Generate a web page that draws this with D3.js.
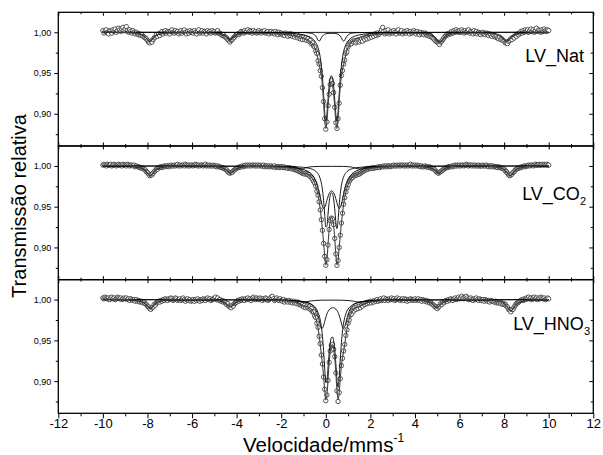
<!DOCTYPE html>
<html>
<head>
<meta charset="utf-8">
<script src="https://cdn.jsdelivr.net/npm/d3@7"></script>
<style>
  html, body { margin: 0; padding: 0; background: #fff; }
  svg { display: block; }
  text { font-family: "Liberation Sans", Arial, Helvetica, sans-serif; }
</style>
</head>
<body>
<svg id="chart" width="603" height="455"></svg>
<script>
// Doppler velocity of each channel (mm/s)
const velocity = [
-10,-9.95,-9.9,-9.85,-9.8,-9.75,-9.7,-9.65,-9.6,-9.55,-9.5,-9.45,-9.4,-9.35,-9.3,-9.25,-9.2,-9.15,-9.1,-9.05,
-9,-8.95,-8.9,-8.85,-8.8,-8.75,-8.7,-8.65,-8.6,-8.55,-8.5,-8.45,-8.4,-8.35,-8.3,-8.25,-8.2,-8.15,-8.1,-8.05,
-8,-7.95,-7.9,-7.85,-7.8,-7.75,-7.7,-7.65,-7.6,-7.55,-7.5,-7.45,-7.4,-7.35,-7.3,-7.25,-7.2,-7.15,-7.1,-7.05,
-7,-6.95,-6.9,-6.85,-6.8,-6.75,-6.7,-6.65,-6.6,-6.55,-6.5,-6.45,-6.4,-6.35,-6.3,-6.25,-6.2,-6.15,-6.1,-6.05,
-6,-5.95,-5.9,-5.85,-5.8,-5.75,-5.7,-5.65,-5.6,-5.55,-5.5,-5.45,-5.4,-5.35,-5.3,-5.25,-5.2,-5.15,-5.1,-5.05,
-5,-4.95,-4.9,-4.85,-4.8,-4.75,-4.7,-4.65,-4.6,-4.55,-4.5,-4.45,-4.4,-4.35,-4.3,-4.25,-4.2,-4.15,-4.1,-4.05,
-4,-3.95,-3.9,-3.85,-3.8,-3.75,-3.7,-3.65,-3.6,-3.55,-3.5,-3.45,-3.4,-3.35,-3.3,-3.25,-3.2,-3.15,-3.1,-3.05,
-3,-2.95,-2.9,-2.85,-2.8,-2.75,-2.7,-2.65,-2.6,-2.55,-2.5,-2.45,-2.4,-2.35,-2.3,-2.25,-2.2,-2.15,-2.1,-2.05,
-2,-1.95,-1.9,-1.85,-1.8,-1.75,-1.7,-1.65,-1.6,-1.55,-1.5,-1.45,-1.4,-1.35,-1.3,-1.25,-1.2,-1.15,-1.1,-1.05,
-1,-0.95,-0.9,-0.85,-0.8,-0.75,-0.7,-0.65,-0.6,-0.55,-0.5,-0.45,-0.4,-0.35,-0.3,-0.25,-0.2,-0.15,-0.1,-0.05,
0,0.05,0.1,0.15,0.2,0.25,0.3,0.35,0.4,0.45,0.5,0.55,0.6,0.65,0.7,0.75,0.8,0.85,0.9,0.95,
1,1.05,1.1,1.15,1.2,1.25,1.3,1.35,1.4,1.45,1.5,1.55,1.6,1.65,1.7,1.75,1.8,1.85,1.9,1.95,
2,2.05,2.1,2.15,2.2,2.25,2.3,2.35,2.4,2.45,2.5,2.55,2.6,2.65,2.7,2.75,2.8,2.85,2.9,2.95,
3,3.05,3.1,3.15,3.2,3.25,3.3,3.35,3.4,3.45,3.5,3.55,3.6,3.65,3.7,3.75,3.8,3.85,3.9,3.95,
4,4.05,4.1,4.15,4.2,4.25,4.3,4.35,4.4,4.45,4.5,4.55,4.6,4.65,4.7,4.75,4.8,4.85,4.9,4.95,
5,5.05,5.1,5.15,5.2,5.25,5.3,5.35,5.4,5.45,5.5,5.55,5.6,5.65,5.7,5.75,5.8,5.85,5.9,5.95,
6,6.05,6.1,6.15,6.2,6.25,6.3,6.35,6.4,6.45,6.5,6.55,6.6,6.65,6.7,6.75,6.8,6.85,6.9,6.95,
7,7.05,7.1,7.15,7.2,7.25,7.3,7.35,7.4,7.45,7.5,7.55,7.6,7.65,7.7,7.75,7.8,7.85,7.9,7.95,
8,8.05,8.1,8.15,8.2,8.25,8.3,8.35,8.4,8.45,8.5,8.55,8.6,8.65,8.7,8.75,8.8,8.85,8.9,8.95,
9,9.05,9.1,9.15,9.2,9.25,9.3,9.35,9.4,9.45,9.5,9.55,9.6,9.65,9.7,9.75,9.8,9.85,9.9,9.95,
10
];

// Measured relative transmission, sample LV_Nat
const natData = [
1.002,0.999,1.001,1.003,1.000,0.998,1.002,1.001,0.999,1.003,1.001,1.004,1.000,1.002,1.005,1.003,1.001,1.004,1.006,1.002,
1.004,1.007,1.002,1.000,1.003,1.001,0.999,1.002,1.000,0.998,1.000,0.998,0.997,0.998,0.996,0.997,0.995,0.994,0.993,0.992,
0.990,0.988,0.987,0.989,0.988,0.991,0.993,0.994,0.997,0.995,0.998,0.996,0.999,1.001,0.998,1.000,1.002,0.999,1.001,1.000,
0.998,1.001,1.003,1.000,0.999,1.002,1.000,1.001,0.998,1.000,1.002,0.999,1.001,1.003,1.000,0.998,1.001,0.999,1.002,1.000,
1.001,0.999,1.002,1.000,0.998,1.001,1.003,0.999,1.000,1.002,0.999,1.001,1.000,0.998,1.002,1.000,1.001,0.999,1.002,1.000,
1.001,0.999,1.000,1.002,0.999,0.998,0.998,0.996,0.997,0.995,0.994,0.993,0.991,0.990,0.988,0.990,0.991,0.993,0.994,0.996,
0.997,0.998,0.997,0.999,1.001,1.000,0.999,1.002,1.000,1.001,1.003,1.000,1.002,1.001,0.999,1.002,1.000,1.001,0.999,1.000,
1.002,1.000,0.999,1.001,1.000,1.002,0.999,1.000,1.001,0.998,1.000,1.001,0.999,1.000,0.998,1.001,0.999,0.997,1.000,0.998,
0.999,0.997,0.998,0.996,0.999,0.997,0.995,0.998,0.996,0.998,0.995,0.997,0.994,0.996,0.997,0.993,0.995,0.992,0.994,0.991,
0.994,0.991,0.993,0.990,0.992,0.989,0.990,0.986,0.987,0.983,0.982,0.977,0.974,0.965,0.961,0.953,0.946,0.932,0.915,0.894,
0.881,0.890,0.910,0.924,0.936,0.941,0.937,0.926,0.908,0.889,0.882,0.894,0.913,0.935,0.947,0.953,0.961,0.966,0.974,0.976,
0.982,0.985,0.987,0.986,0.989,0.988,0.990,0.987,0.989,0.991,0.988,0.990,0.992,0.989,0.993,0.991,0.994,0.992,0.995,0.993,
0.996,0.994,0.997,0.995,0.998,0.996,0.999,0.997,0.998,1.000,1.003,1.006,1.001,0.998,1.002,0.999,1.003,0.998,1.000,1.001,
0.999,1.002,1.000,0.998,1.001,1.003,0.999,1.000,1.002,0.998,1.000,1.001,0.999,1.002,1.000,0.998,1.001,0.999,1.000,1.002,
1.000,0.998,1.001,0.999,0.997,1.000,0.998,0.999,0.997,0.999,0.998,0.996,0.997,0.995,0.996,0.994,0.993,0.992,0.990,0.989,
0.988,0.987,0.985,0.988,0.989,0.991,0.993,0.995,0.996,0.998,0.997,0.999,0.998,1.001,0.999,1.002,1.000,1.003,1.001,1.000,
1.002,1.000,1.003,1.001,0.999,1.002,1.000,1.001,1.003,0.999,1.001,1.000,0.998,1.002,0.999,1.001,0.998,1.000,0.999,0.997,
0.999,1.000,0.998,0.997,0.999,0.998,0.996,0.998,0.997,0.995,0.997,0.996,0.994,0.995,0.993,0.992,0.994,0.991,0.992,0.990,
0.989,0.987,0.988,0.986,0.989,0.990,0.992,0.991,0.994,0.993,0.996,0.995,0.998,0.997,0.999,1.001,0.999,1.002,1.000,1.003,
1.001,1.003,1.000,1.002,1.004,1.001,1.003,1.000,1.002,1.005,1.001,1.003,1.002,1.000,1.003,1.001,1.004,1.002,1.001,1.003,
1.002
];

// Measured relative transmission, sample LV_CO2
const co2Data = [
1.001,1.002,1.001,1.000,1.002,1.001,1.001,1.002,1.000,1.001,1.002,1.001,1.000,1.001,1.002,1.001,1.001,1.000,1.002,1.001,
1.001,1.000,1.002,1.001,1.000,1.001,1.001,1.000,1.001,0.999,1.000,0.999,0.999,0.998,0.998,0.997,0.997,0.996,0.995,0.993,
0.992,0.990,0.988,0.989,0.989,0.991,0.993,0.994,0.996,0.996,0.998,0.998,0.999,0.998,0.999,1.000,0.999,1.000,1.000,0.999,
1.000,1.001,1.000,1.000,1.001,1.000,1.001,1.002,1.000,1.001,1.000,1.001,1.001,1.000,1.002,1.001,1.000,1.001,1.000,1.001,
1.001,1.000,1.001,1.002,1.001,1.000,1.001,1.000,1.001,1.001,1.000,1.001,1.002,1.000,1.001,1.000,1.001,1.000,1.000,1.001,
1.000,1.000,0.999,1.000,0.999,0.999,0.998,0.998,0.997,0.997,0.996,0.995,0.993,0.992,0.991,0.992,0.992,0.994,0.995,0.996,
0.997,0.998,0.998,0.999,0.999,1.000,0.999,1.000,1.001,1.000,1.001,1.000,1.001,1.000,1.001,1.001,1.000,1.001,1.000,1.001,
1.000,1.001,1.000,1.000,1.001,0.999,1.000,1.000,0.999,1.000,0.999,1.000,0.999,0.999,1.000,0.998,0.999,0.999,0.998,0.999,
0.999,0.998,0.999,0.998,0.998,0.998,0.997,0.998,0.997,0.997,0.996,0.997,0.996,0.995,0.995,0.994,0.993,0.993,0.992,0.991,
0.991,0.990,0.991,0.990,0.989,0.989,0.987,0.986,0.984,0.981,0.979,0.975,0.969,0.964,0.956,0.946,0.934,0.921,0.905,0.889,
0.878,0.885,0.903,0.922,0.933,0.936,0.935,0.928,0.911,0.892,0.878,0.884,0.900,0.915,0.930,0.942,0.953,0.961,0.968,0.973,
0.977,0.981,0.983,0.985,0.986,0.988,0.988,0.989,0.989,0.990,0.990,0.991,0.992,0.993,0.994,0.995,0.995,0.996,0.996,0.997,
0.997,0.997,0.998,0.997,0.998,0.998,0.998,0.999,0.998,0.999,0.999,0.999,1.000,0.999,1.000,0.999,1.000,1.000,0.999,1.000,
1.000,1.001,1.000,1.000,1.001,1.000,1.001,1.000,1.001,1.001,1.000,1.001,1.000,1.001,1.000,1.001,1.002,1.000,1.001,1.000,
1.001,1.000,1.001,1.000,1.000,0.999,1.000,0.999,0.999,1.000,0.999,0.999,0.998,0.999,0.998,0.997,0.997,0.996,0.995,0.993,
0.992,0.991,0.992,0.993,0.994,0.995,0.996,0.997,0.998,0.998,0.999,0.999,0.999,1.000,0.999,1.000,1.001,1.000,1.001,1.000,
1.001,1.000,1.001,1.001,1.000,1.001,1.002,1.001,1.000,1.001,1.001,1.000,1.001,1.000,1.001,1.000,1.000,1.001,1.000,1.000,
1.000,1.001,1.000,1.000,1.001,1.000,0.999,1.000,1.000,0.999,1.000,0.999,0.999,0.999,0.998,0.999,0.998,0.998,0.997,0.997,
0.996,0.994,0.993,0.991,0.989,0.988,0.989,0.990,0.992,0.993,0.995,0.996,0.997,0.997,0.998,0.998,0.999,0.999,1.000,0.999,
1.000,1.000,1.001,1.000,1.001,1.001,1.000,1.001,1.002,1.001,1.001,1.002,1.001,1.001,1.002,1.001,1.002,1.001,1.002,1.001,
1.001
];

// Measured relative transmission, sample LV_HNO3
const hno3Data = [
1.002,1.001,1.003,1.002,1.001,1.002,1.000,1.002,1.003,1.001,1.002,1.000,1.001,1.003,1.002,1.001,1.002,1.000,1.001,1.002,
1.001,1.002,1.000,1.001,0.999,1.001,1.000,0.999,1.000,0.998,1.000,0.998,0.999,0.997,0.998,0.997,0.996,0.997,0.995,0.994,
0.992,0.991,0.989,0.988,0.990,0.991,0.994,0.993,0.996,0.997,0.998,0.997,0.999,0.998,1.000,0.999,1.001,1.000,0.999,1.001,
1.000,1.002,1.001,0.999,1.000,1.002,1.001,0.999,1.000,1.001,0.999,1.000,1.002,1.000,0.998,1.000,1.001,0.999,1.000,0.998,
0.999,1.000,0.998,1.000,0.999,1.001,0.999,0.998,1.000,0.999,1.001,1.000,0.999,1.001,1.002,1.000,1.001,0.999,1.000,1.001,
1.001,1.003,1.000,1.002,0.999,1.000,0.998,0.999,0.997,0.998,0.996,0.994,0.995,0.992,0.991,0.990,0.993,0.992,0.995,0.996,
0.997,0.999,0.998,1.000,0.999,1.001,1.000,0.999,1.001,1.000,1.002,1.000,1.001,0.999,1.001,1.003,1.001,1.000,1.002,1.001,
1.000,1.002,1.001,0.999,1.001,1.000,1.002,1.001,0.999,1.000,1.001,1.003,1.004,1.001,0.999,1.000,1.002,1.000,0.999,1.001,
0.999,0.998,1.000,0.997,0.999,0.998,0.997,0.999,0.997,0.998,0.996,0.998,0.996,0.997,0.995,0.997,0.994,0.995,0.993,0.994,
0.991,0.993,0.990,0.992,0.990,0.991,0.988,0.989,0.985,0.985,0.980,0.978,0.971,0.966,0.955,0.946,0.932,0.921,0.905,0.890,
0.876,0.883,0.901,0.923,0.937,0.944,0.945,0.939,0.930,0.910,0.888,0.875,0.886,0.903,0.919,0.928,0.937,0.945,0.956,0.963,
0.971,0.975,0.981,0.982,0.987,0.986,0.990,0.988,0.991,0.989,0.992,0.990,0.993,0.992,0.995,0.994,0.996,0.995,0.997,0.996,
0.998,0.996,0.998,0.997,0.999,0.998,1.000,0.998,0.999,1.001,0.999,1.000,1.002,0.999,1.001,1.000,0.999,1.001,1.000,1.002,
1.000,1.001,0.999,1.000,1.002,1.000,1.001,0.999,1.000,1.001,0.999,1.001,1.000,0.998,1.000,0.999,1.001,1.000,0.999,1.000,
1.001,0.999,1.000,1.001,0.999,1.000,0.998,1.000,0.999,0.998,0.999,0.997,0.998,0.996,0.997,0.995,0.994,0.993,0.991,0.991,
0.989,0.991,0.992,0.995,0.994,0.997,0.996,0.998,0.999,0.998,1.000,0.999,1.001,1.000,0.999,1.001,1.002,1.000,1.001,1.003,
1.001,1.002,1.004,1.002,1.001,1.003,1.004,1.002,1.000,1.001,1.002,1.000,0.999,1.001,1.000,1.002,1.000,0.999,1.001,1.000,
0.999,1.000,0.998,1.000,0.999,0.998,0.999,0.997,0.999,0.998,0.998,0.997,0.998,0.996,0.997,0.996,0.997,0.995,0.996,0.994,
0.995,0.994,0.992,0.991,0.988,0.987,0.985,0.988,0.988,0.991,0.993,0.995,0.996,0.997,0.998,0.999,1.000,0.999,1.001,1.000,
1.002,1.001,1.003,1.001,1.002,1.000,1.002,1.003,1.001,1.002,1.000,1.002,1.001,1.003,1.002,1.001,1.002,1.000,1.001,1.002,
1.001
];

// Fitted curves, [velocity, transmission]
const natFit = [[-10,1.000],[-9,0.9998],[-8.6,0.9992],[-8.4,0.9983],[-8.3,0.9975],[-8.2,0.9962],[-8.1,0.994],[-8.05,0.9926],[-8,0.9909],[-7.95,0.9895],[-7.9,0.989],[-7.85,0.9895],[-7.8,0.9909],[-7.75,0.9926],[-7.7,0.994],[-7.6,0.9962],[-7.5,0.9975],[-7.3,0.9987],[-7,0.9993],[-6,0.9996],[-5,0.9988],[-4.8,0.998],[-4.7,0.9974],[-4.6,0.9964],[-4.5,0.9948],[-4.45,0.9935],[-4.4,0.9923],[-4.35,0.9907],[-4.3,0.9892],[-4.25,0.9907],[-4.2,0.9923],[-4.15,0.9935],[-4.1,0.9948],[-4,0.9964],[-3.9,0.9974],[-3.8,0.998],[-3.5,0.9986],[-3,0.9988],[-2.5,0.9984],
[-2,0.9978],[-1.9,0.9976],[-1.8,0.9973],[-1.7,0.9971],[-1.6,0.9967],[-1.5,0.9965],[-1.4,0.9961],[-1.3,0.9957],[-1.2,0.9949],[-1.1,0.9942],[-1,0.9933],[-0.95,0.9927],[-0.9,0.9921],[-0.85,0.9914],[-0.8,0.9907],[-0.75,0.9898],[-0.7,0.9888],[-0.65,0.9876],[-0.6,0.9861],[-0.55,0.9841],[-0.5,0.9813],[-0.45,0.9779],[-0.4,0.973],[-0.35,0.9668],[-0.3,0.9604],[-0.25,0.9544],[-0.2,0.9464],[-0.15,0.9334],[-0.1,0.9143],[-0.05,0.893],[0,0.8819],[0.05,0.8904],[0.1,0.9091],[0.15,0.9254],[0.2,0.9351],[0.25,0.9381],[0.3,0.9351],[0.35,0.9254],[0.4,0.9091],[0.45,0.8904],[0.5,0.8819],[0.55,0.893],[0.6,0.9143],[0.65,0.9334],[0.7,0.9464],[0.75,0.9544],[0.8,0.9604],[0.85,0.9668],[0.9,0.973],[0.95,0.9779],[1,0.9813],[1.05,0.9841],[1.1,0.9861],[1.15,0.9876],[1.2,0.9888],[1.25,0.9898],[1.3,0.9907],[1.35,0.9914],[1.4,0.9921],[1.45,0.9927],[1.5,0.9933],[1.6,0.9942],[1.7,0.9949],[1.8,0.9957],[1.9,0.9961],[2,0.9965],[2.2,0.9971],[2.5,0.9978],[3,0.9983],[3.5,0.9987],[4,0.9988],
[4.4,0.9982],[4.6,0.9972],[4.7,0.9962],[4.8,0.9948],[4.9,0.9925],[4.95,0.9906],[5,0.9888],[5.05,0.9875],[5.1,0.987],[5.15,0.9875],[5.2,0.9888],[5.25,0.9906],[5.3,0.9925],[5.4,0.9948],[5.5,0.9962],[5.6,0.9972],[5.8,0.9982],[6.2,0.9989],[7,0.9991],[7.4,0.9984],[7.6,0.9976],[7.7,0.9968],[7.8,0.9955],[7.9,0.9935],[7.95,0.992],[8,0.9904],[8.05,0.9891],[8.1,0.9886],[8.15,0.9891],[8.2,0.9904],[8.25,0.992],[8.3,0.9935],[8.4,0.9955],[8.5,0.9968],[8.6,0.9976],[8.8,0.9985],[9.2,0.9992],[10,0.9996]];

const natDoublet = [[-10,1],[-4,0.9998],[-3,0.9996],[-2.5,0.9993],[-2,0.9991],[-1.5,0.9985],[-1.2,0.9977],[-1,0.9968],[-0.9,0.9961],[-0.8,0.9953],[-0.7,0.994],[-0.6,0.9923],[-0.5,0.9894],[-0.45,0.9875],[-0.4,0.9849],[-0.35,0.9813],[-0.3,0.9765],[-0.25,0.9694],[-0.2,0.9593],[-0.15,0.9445],[-0.1,0.9244],[-0.05,0.9024],[0,0.891],[0.05,0.8993],[0.1,0.9179],[0.15,0.9341],[0.2,0.9437],[0.25,0.9467],[0.3,0.9437],[0.35,0.9341],[0.4,0.9179],[0.45,0.8993],[0.5,0.891],[0.55,0.9024],[0.6,0.9244],[0.65,0.9445],[0.7,0.9593],[0.75,0.9694],[0.8,0.9765],[0.85,0.9813],[0.9,0.9849],[0.95,0.9875],[1,0.9894],[1.1,0.9923],[1.2,0.994],[1.3,0.9953],[1.4,0.9961],[1.5,0.9968],[1.7,0.9977],[2,0.9985],[2.5,0.9991],[3,0.9993],[3.5,0.9996],[4.5,0.9998],[10,1]];

const natMinor = [[-10,1],[-1.5,0.9998],[-1,0.9996],[-0.9,0.9995],[-0.8,0.9993],[-0.7,0.9989],[-0.65,0.9987],[-0.6,0.9983],[-0.55,0.9977],[-0.5,0.9967],[-0.45,0.9953],[-0.4,0.9931],[-0.35,0.9904],[-0.3,0.989],[-0.25,0.9904],[-0.2,0.9931],[-0.15,0.9953],[-0.1,0.9967],[-0.05,0.9977],[0,0.9982],[0.1,0.9986],[0.25,0.9987],[0.4,0.9986],[0.5,0.9982],[0.55,0.9977],[0.6,0.9967],[0.65,0.9953],[0.7,0.9931],[0.75,0.9904],[0.8,0.989],[0.85,0.9904],[0.9,0.9931],[0.95,0.9953],[1,0.9967],[1.05,0.9977],[1.1,0.9983],[1.15,0.9987],[1.2,0.9989],[1.3,0.9993],[1.4,0.9995],[1.5,0.9996],[2,0.9998],[10,1]];

const natSextet = [[-10,1],[-9,0.9996],[-8.6,0.9992],[-8.4,0.9982],[-8.3,0.9974],[-8.2,0.9961],[-8.1,0.994],[-8.05,0.9925],[-8,0.9909],[-7.95,0.9895],[-7.9,0.989],[-7.85,0.9895],[-7.8,0.9909],[-7.75,0.9925],[-7.7,0.994],[-7.6,0.9961],[-7.5,0.9974],[-7.4,0.9982],[-7.2,0.9992],[-6.5,0.9996],[-5.3,0.9996],[-4.9,0.9991],[-4.7,0.9982],[-4.6,0.9972],[-4.5,0.9956],[-4.4,0.9931],[-4.35,0.9915],[-4.3,0.990],[-4.25,0.9915],[-4.2,0.9931],[-4.1,0.9956],[-4,0.9972],[-3.9,0.9982],[-3.7,0.9991],[-3,0.9997],[0,0.9999],[4,0.9996],[4.5,0.9989],[4.7,0.9978],[4.8,0.9965],[4.9,0.9934],[4.95,0.9918],[5,0.990],[5.05,0.9886],[5.1,0.988],[5.15,0.9886],[5.2,0.990],[5.25,0.9918],[5.3,0.9934],[5.4,0.9965],[5.5,0.9978],[5.7,0.9989],[6.2,0.9995],[7,0.9996],[7.5,0.9987],[7.7,0.9974],[7.8,0.9961],[7.9,0.994],[7.95,0.9925],[8,0.9909],[8.05,0.9895],[8.1,0.989],[8.15,0.9895],[8.2,0.9909],[8.25,0.9925],[8.3,0.994],[8.4,0.9961],[8.5,0.9974],[8.7,0.9987],[9.2,0.9995],[10,0.9997]];

const co2Fit = [[-10,1.0005],[-9,1.0002],[-8.6,0.9995],[-8.5,0.9992],[-8.4,0.9987],[-8.3,0.998],[-8.2,0.9968],[-8.15,0.9959],[-8.1,0.9947],[-8.05,0.9933],[-8,0.9916],[-7.95,0.9899],[-7.9,0.9887],[-7.85,0.9886],[-7.8,0.9896],[-7.75,0.9913],[-7.7,0.9929],[-7.65,0.9945],[-7.6,0.9957],[-7.5,0.9974],[-7.4,0.9983],[-7.2,0.9993],[-7,0.9997],[-6,1.0001],[-5.2,0.9998],[-5,0.9996],[-4.8,0.999],[-4.7,0.9985],[-4.6,0.9975],[-4.55,0.9968],[-4.5,0.9959],[-4.45,0.9947],[-4.4,0.9935],[-4.35,0.9922],[-4.3,0.9915],[-4.25,0.9916],[-4.2,0.9925],[-4.15,0.9937],[-4.1,0.995],[-4.05,0.9961],[-4,0.997],[-3.9,0.9981],[-3.8,0.9987],[-3.6,0.9993],[-3,0.9994],[-2.5,0.9991],
[-2,0.9987],[-1.9,0.9985],[-1.8,0.9982],[-1.7,0.9978],[-1.6,0.9973],[-1.55,0.997],[-1.5,0.9968],[-1.45,0.9964],[-1.4,0.996],[-1.35,0.9955],[-1.3,0.995],[-1.25,0.9943],[-1.2,0.9934],[-1.15,0.9926],[-1.1,0.992],[-1.05,0.9913],[-1,0.991],[-0.95,0.991],[-0.9,0.9908],[-0.85,0.9905],[-0.8,0.9898],[-0.75,0.9889],[-0.7,0.9877],[-0.65,0.9863],[-0.6,0.9843],[-0.55,0.982],[-0.5,0.979],[-0.45,0.9751],[-0.4,0.9702],[-0.35,0.9645],[-0.3,0.9566],[-0.25,0.9468],[-0.2,0.935],[-0.15,0.9214],[-0.1,0.9063],[-0.05,0.89],[0,0.8785],[0.05,0.8845],[0.1,0.9039],[0.15,0.9219],[0.2,0.9328],[0.25,0.9371],[0.3,0.9354],[0.35,0.9272],[0.4,0.9119],[0.45,0.8915],[0.5,0.8784],[0.55,0.8841],[0.6,0.8998],[0.65,0.9156],[0.7,0.9298],[0.75,0.9423],[0.8,0.9528],[0.85,0.9616],[0.9,0.9677],[0.95,0.9731],[1,0.9773],[1.05,0.9806],[1.1,0.9831],[1.15,0.9851],[1.2,0.9867],[1.25,0.9878],[1.3,0.9886],[1.35,0.989],[1.4,0.9894],[1.45,0.9898],[1.5,0.9906],[1.55,0.9914],[1.6,0.9924],[1.65,0.9933],[1.7,0.9941],[1.75,0.9947],[1.8,0.9954],[1.9,0.9962],[2,0.9969],[2.2,0.9978],[2.5,0.9988],[3,0.9994],[3.5,0.9997],[4,0.9996],
[4.3,0.9994],[4.5,0.9991],[4.6,0.9986],[4.7,0.9979],[4.75,0.9974],[4.8,0.9966],[4.85,0.9957],[4.9,0.9945],[4.95,0.9932],[5,0.992],[5.05,0.9914],[5.1,0.9917],[5.15,0.9927],[5.2,0.994],[5.25,0.9953],[5.3,0.9963],[5.4,0.9977],[5.5,0.9986],[5.7,0.9995],[6,0.9999],[7,0.9999],[7.5,0.9995],[7.7,0.9988],[7.8,0.9982],[7.9,0.9973],[7.95,0.9966],[8,0.9956],[8.05,0.9944],[8.1,0.9928],[8.15,0.9912],[8.2,0.9895],[8.25,0.9885],[8.3,0.9886],[8.35,0.9898],[8.4,0.9915],[8.45,0.9932],[8.5,0.9946],[8.55,0.9958],[8.6,0.9967],[8.7,0.9979],[8.8,0.9986],[9,0.9992],[9.5,0.9999],[10,1.0002]];

const co2DoubletA = [[-10,1],[-3,0.9997],[-2,0.9995],[-1.5,0.9991],[-1,0.9983],[-0.8,0.9975],[-0.6,0.9959],[-0.5,0.9946],[-0.4,0.9922],[-0.35,0.9904],[-0.3,0.988],[-0.25,0.9844],[-0.2,0.979],[-0.15,0.9706],[-0.1,0.9579],[-0.05,0.9404],[0,0.9251],[0.05,0.9261],[0.1,0.9409],[0.15,0.9553],[0.2,0.9639],[0.25,0.9672],[0.3,0.9659],[0.35,0.9595],[0.4,0.9473],[0.45,0.9312],[0.5,0.9231],[0.55,0.9332],[0.6,0.9513],[0.65,0.9662],[0.7,0.9761],[0.75,0.9825],[0.8,0.9866],[0.85,0.9896],[0.9,0.9916],[1,0.9942],[1.1,0.9957],[1.2,0.9968],[1.4,0.9979],[1.6,0.9985],[2,0.9991],[2.5,0.9995],[3.5,0.9997],[10,1]];

const co2DoubletB = [[-10,1],[-3,0.9994],[-2.5,0.9992],[-2,0.9988],[-1.5,0.9979],[-1.2,0.9968],[-1,0.9955],[-0.9,0.9946],[-0.8,0.9933],[-0.7,0.9914],[-0.6,0.9887],[-0.5,0.9846],[-0.45,0.9817],[-0.4,0.9781],[-0.35,0.9736],[-0.3,0.9681],[-0.25,0.9619],[-0.2,0.9555],[-0.15,0.9503],[-0.1,0.9479],[-0.05,0.9491],[0,0.9529],[0.05,0.9579],[0.1,0.9625],[0.15,0.9661],[0.2,0.9684],[0.25,0.9694],[0.3,0.969],[0.35,0.9672],[0.4,0.9641],[0.45,0.9598],[0.5,0.9548],[0.55,0.9504],[0.6,0.948],[0.65,0.9489],[0.7,0.9532],[0.75,0.9593],[0.8,0.9657],[0.85,0.9715],[0.9,0.9764],[0.95,0.9803],[1,0.9835],[1.1,0.988],[1.2,0.991],[1.3,0.993],[1.4,0.9943],[1.6,0.9961],[1.8,0.9972],[2,0.9978],[2.5,0.9988],[3,0.9992],[4,0.9996],[10,1]];

const co2Sextet = [[-10,1],[-9,0.9997],[-8.6,0.999],[-8.4,0.9982],[-8.3,0.9975],[-8.2,0.9963],[-8.1,0.9942],[-8.05,0.9928],[-8,0.9911],[-7.95,0.9894],[-7.9,0.9882],[-7.85,0.9881],[-7.8,0.9891],[-7.75,0.9908],[-7.7,0.9924],[-7.6,0.9952],[-7.5,0.9969],[-7.4,0.9978],[-7.2,0.9988],[-6.8,0.9994],[-6,0.9997],[-5.2,0.9996],[-4.9,0.999],[-4.7,0.9981],[-4.6,0.9971],[-4.5,0.9955],[-4.45,0.9943],[-4.4,0.9931],[-4.35,0.9918],[-4.3,0.9911],[-4.25,0.9912],[-4.2,0.9921],[-4.15,0.9933],[-4.1,0.9946],[-4,0.9966],[-3.9,0.9977],[-3.7,0.9988],[-3.2,0.9995],[-2.2,0.9995],[-1.7,0.999],[-1.5,0.9987],[-1.4,0.9985],[-1.3,0.9979],[-1.2,0.9972],[-1.15,0.9968],[-1.1,0.9965],[-1.05,0.9965],[-1,0.9967],[-0.95,0.9972],[-0.9,0.9977],[-0.8,0.9984],[-0.6,0.9991],[-0.3,0.9994],[0.25,0.9995],[0.8,0.9994],[1,0.9991],[1.2,0.9984],[1.3,0.9977],[1.35,0.9972],[1.4,0.9967],[1.45,0.9965],[1.5,0.9965],[1.55,0.9968],[1.6,0.9972],[1.7,0.9981],[1.8,0.9987],[2,0.9992],[2.5,0.9995],[3.5,0.9995],[4.3,0.9991],[4.6,0.9983],[4.7,0.9975],[4.8,0.9962],[4.85,0.9953],[4.9,0.9941],[4.95,0.9928],[5,0.9916],[5.05,0.991],[5.1,0.9913],[5.15,0.9923],[5.2,0.9936],[5.3,0.9959],[5.4,0.9973],[5.5,0.9982],[5.7,0.9991],[6.2,0.9996],[7.2,0.9995],[7.6,0.9988],[7.8,0.9978],[7.9,0.9969],[8,0.9952],[8.1,0.9924],[8.15,0.9908],[8.2,0.9891],[8.25,0.9881],[8.3,0.9882],[8.35,0.9894],[8.4,0.9911],[8.45,0.9928],[8.5,0.9942],[8.6,0.9963],[8.7,0.9975],[8.85,0.9985],[9.2,0.9993],[10,0.9996]];

const hno3Fit = [[-10,1.0005],[-9,1.0001],[-8.6,0.9996],[-8.5,0.9993],[-8.4,0.9989],[-8.3,0.9982],[-8.2,0.9971],[-8.15,0.9963],[-8.1,0.9952],[-8.05,0.9939],[-8,0.9923],[-7.95,0.9908],[-7.9,0.9897],[-7.85,0.9896],[-7.8,0.9905],[-7.75,0.9921],[-7.7,0.9935],[-7.65,0.995],[-7.6,0.9961],[-7.5,0.9976],[-7.4,0.9985],[-7.2,0.9994],[-7,0.9998],[-6,1.0001],[-5.2,0.9998],[-5,0.9996],[-4.8,0.999],[-4.7,0.9985],[-4.6,0.9975],[-4.55,0.9968],[-4.5,0.9959],[-4.45,0.9947],[-4.4,0.9935],[-4.35,0.9922],[-4.3,0.9915],[-4.25,0.9916],[-4.2,0.9925],[-4.15,0.9937],[-4.1,0.995],[-4.05,0.9961],[-4,0.997],[-3.9,0.9981],[-3.8,0.9987],[-3.6,0.9993],[-3,0.9995],[-2.5,0.9992],
[-2,0.9988],[-1.8,0.9984],[-1.6,0.998],[-1.5,0.9976],[-1.4,0.9971],[-1.3,0.9964],[-1.2,0.9953],[-1.1,0.9937],[-1.05,0.9929],[-1,0.9924],[-0.95,0.992],[-0.9,0.9919],[-0.85,0.9916],[-0.8,0.9912],[-0.75,0.9905],[-0.7,0.9896],[-0.65,0.9882],[-0.6,0.9866],[-0.55,0.9843],[-0.5,0.9813],[-0.45,0.9774],[-0.4,0.9721],[-0.35,0.965],[-0.3,0.956],[-0.25,0.945],[-0.2,0.9329],[-0.15,0.9204],[-0.1,0.9063],[-0.05,0.8894],[0,0.877],[0.05,0.8821],[0.1,0.9021],[0.15,0.9226],[0.2,0.9366],[0.25,0.9436],[0.3,0.9447],[0.35,0.9401],[0.4,0.9289],[0.45,0.9106],[0.5,0.8888],[0.55,0.8771],[0.6,0.8854],[0.65,0.9035],[0.7,0.9186],[0.75,0.9286],[0.8,0.9365],[0.85,0.9452],[0.9,0.9549],[0.95,0.9637],[1,0.9707],[1.05,0.9763],[1.1,0.9804],[1.15,0.9836],[1.2,0.986],[1.25,0.9877],[1.3,0.9892],[1.35,0.9901],[1.4,0.9909],[1.45,0.9908],[1.5,0.9911],[1.55,0.9918],[1.6,0.9928],[1.65,0.9937],[1.7,0.9944],[1.8,0.9957],[1.9,0.9965],[2,0.997],[2.2,0.9978],[2.5,0.9986],[3,0.9992],[3.5,0.9995],[4,0.9995],
[4.2,0.9993],[4.4,0.9989],[4.5,0.9986],[4.6,0.998],[4.65,0.9974],[4.7,0.9967],[4.75,0.9957],[4.8,0.9945],[4.85,0.9931],[4.9,0.9917],[4.95,0.9907],[5,0.9906],[5.05,0.9914],[5.1,0.9928],[5.15,0.9942],[5.2,0.9955],[5.3,0.9973],[5.4,0.9983],[5.5,0.999],[5.7,0.9997],[6.2,1.0001],[7,1.0],[7.4,0.9997],[7.6,0.9992],[7.7,0.9988],[7.8,0.9982],[7.85,0.9978],[7.9,0.9973],[7.95,0.9965],[8,0.9956],[8.05,0.9944],[8.1,0.9928],[8.15,0.9909],[8.2,0.9889],[8.25,0.9872],[8.3,0.9865],[8.35,0.9872],[8.4,0.9889],[8.45,0.9909],[8.5,0.9928],[8.55,0.9944],[8.6,0.9956],[8.7,0.9973],[8.8,0.9982],[9,0.9992],[9.3,0.9997],[10,1.0002]];

const hno3DoubletA = [[-10,1],[-3,0.9995],[-2,0.9992],[-1.5,0.9986],[-1,0.9972],[-0.8,0.9959],[-0.6,0.9934],[-0.5,0.9911],[-0.4,0.9874],[-0.35,0.9845],[-0.3,0.9807],[-0.25,0.9751],[-0.2,0.967],[-0.15,0.955],[-0.1,0.9377],[-0.05,0.9157],[0,0.8982],[0.05,0.8992],[0.1,0.9162],[0.15,0.9346],[0.2,0.9472],[0.25,0.9534],[0.3,0.9541],[0.35,0.9496],[0.4,0.9389],[0.45,0.9217],[0.5,0.9016],[0.55,0.8923],[0.6,0.904],[0.65,0.9267],[0.7,0.947],[0.75,0.9616],[0.8,0.9714],[0.85,0.978],[0.9,0.9827],[0.95,0.986],[1,0.9884],[1.1,0.9916],[1.2,0.9936],[1.3,0.995],[1.5,0.9967],[1.8,0.9979],[2,0.9983],[2.5,0.9989],[3.5,0.9994],[10,1]];

const hno3DoubletB = [[-10,1],[-3,0.9996],[-2,0.9994],[-1.5,0.999],[-1.2,0.9984],[-1,0.9977],[-0.9,0.9972],[-0.8,0.9964],[-0.7,0.9952],[-0.6,0.9933],[-0.5,0.9901],[-0.45,0.9877],[-0.4,0.9844],[-0.35,0.9802],[-0.3,0.975],[-0.25,0.9695],[-0.2,0.9654],[-0.15,0.9649],[-0.1,0.9681],[-0.05,0.9732],[0,0.9783],[0.05,0.9824],[0.1,0.9854],[0.15,0.9875],[0.2,0.9889],[0.25,0.9897],[0.3,0.9901],[0.35,0.99],[0.4,0.9895],[0.45,0.9884],[0.5,0.9867],[0.55,0.9843],[0.6,0.9809],[0.65,0.9763],[0.7,0.9711],[0.75,0.9665],[0.8,0.9646],[0.85,0.9667],[0.9,0.9717],[0.95,0.9772],[1,0.982],[1.1,0.9887],[1.2,0.9925],[1.3,0.9947],[1.4,0.996],[1.6,0.9976],[1.8,0.9983],[2,0.9987],[2.5,0.9992],[3.5,0.9996],[10,1]];

const hno3Sextet = [[-10,1],[-9,0.9997],[-8.6,0.9991],[-8.4,0.9984],[-8.3,0.9977],[-8.2,0.9966],[-8.1,0.9947],[-8.05,0.9934],[-8,0.9918],[-7.95,0.9903],[-7.9,0.9892],[-7.85,0.9891],[-7.8,0.99],[-7.75,0.9916],[-7.7,0.993],[-7.6,0.9956],[-7.5,0.9971],[-7.4,0.998],[-7.2,0.9989],[-6.8,0.9994],[-6,0.9997],[-5.2,0.9996],[-4.9,0.999],[-4.7,0.9981],[-4.6,0.9971],[-4.5,0.9955],[-4.45,0.9943],[-4.4,0.9931],[-4.35,0.9918],[-4.3,0.9911],[-4.25,0.9912],[-4.2,0.9921],[-4.15,0.9933],[-4.1,0.9946],[-4,0.9966],[-3.9,0.9977],[-3.7,0.9988],[-3.2,0.9995],[-2,0.9995],[-1.6,0.999],[-1.4,0.9986],[-1.3,0.9981],[-1.2,0.9976],[-1.1,0.9972],[-1,0.997],[-0.9,0.9972],[-0.8,0.9977],[-0.7,0.9982],[-0.5,0.9989],[-0.2,0.9993],[0.25,0.9994],[0.7,0.9993],[1,0.9989],[1.2,0.9982],[1.3,0.9977],[1.4,0.9972],[1.5,0.997],[1.6,0.9972],[1.7,0.9976],[1.8,0.9981],[1.9,0.9986],[2.1,0.999],[2.5,0.9994],[3.5,0.9995],[4.2,0.9992],[4.45,0.9985],[4.6,0.9975],[4.7,0.9962],[4.8,0.994],[4.85,0.9926],[4.9,0.9912],[4.95,0.9902],[5,0.9901],[5.05,0.9909],[5.1,0.9923],[5.15,0.9937],[5.2,0.995],[5.3,0.9968],[5.4,0.9978],[5.5,0.9985],[5.7,0.9992],[6.2,0.9996],[7,0.9995],[7.4,0.9992],[7.6,0.9987],[7.8,0.9977],[7.9,0.9968],[8,0.9951],[8.05,0.9939],[8.1,0.9923],[8.15,0.9904],[8.2,0.9884],[8.25,0.9867],[8.3,0.986],[8.35,0.9867],[8.4,0.9884],[8.45,0.9904],[8.5,0.9923],[8.6,0.9951],[8.7,0.9968],[8.8,0.9977],[9,0.9987],[9.3,0.9992],[10,0.9995]];

// Sample names (main text + subscript)
const sampleNames = ["LV_Nat", "LV_CO", "LV_HNO"];
const sampleSubscripts = ["", "2", "3"];

// Axis ticks
const xMajorTicks = [-12, -10, -8, -6, -4, -2, 0, 2, 4, 6, 8, 10, 12];
const xMinorTicks = [-11, -9, -7, -5, -3, -1, 1, 3, 5, 7, 9, 11];
const yMajorTicks = [0.90, 0.95, 1.00];
const yMinorTicks = [0.875, 0.925, 0.975];

// ---------------------------------------------------------------------------

const FONT = '"Liberation Sans", Arial, Helvetica, sans-serif';
const svg = d3.select("#chart");

const plotLeft = 58.3, plotRight = 593.3;
const panelTop0 = 12.3, panelH = 133.67;
const yDomain = [0.8605, 1.0245];

const x = d3.scaleLinear().domain([-12, 12]).range([plotLeft, plotRight]);

const commaFormat = d3.formatLocale({ decimal: ",", thousands: ".", grouping: [3], currency: ["", ""] }).format(".2f");

const panels = [
  { data: natData,  fit: natFit,  parts: [natSextet, natMinor, natDoublet] },
  { data: co2Data,  fit: co2Fit,  parts: [co2Sextet, co2DoubletB, co2DoubletA] },
  { data: hno3Data, fit: hno3Fit, parts: [hno3Sextet, hno3DoubletB, hno3DoubletA] }
];

const labelPos = [
  { x: 584, y: 62 },
  { x: 586, y: 200 },
  { x: 590, y: 330 }
];

function styleAxis(g) {
  g.select(".domain").remove();
  g.selectAll(".tick line").attr("stroke", "#000").attr("stroke-width", 1);
  g.selectAll("text").attr("font-family", FONT).attr("fill", "#000");
}

panels.forEach((p, i) => {
  const top = panelTop0 + i * panelH;
  const bottom = top + panelH;
  const y = d3.scaleLinear().domain(yDomain).range([bottom, top]);
  const g = svg.append("g");

  const clipId = "clip" + i;
  svg.append("clipPath").attr("id", clipId)
    .append("rect").attr("x", plotLeft).attr("y", top).attr("width", plotRight - plotLeft).attr("height", panelH);

  const plot = g.append("g").attr("clip-path", `url(#${clipId})`);

  // measured points
  const points = velocity.map((v, k) => [v, p.data[k]]).filter(d => d[1] !== undefined);
  plot.append("g").selectAll("circle").data(points).join("circle")
    .attr("cx", d => x(d[0]))
    .attr("cy", d => y(d[1]))
    .attr("r", 2.2)
    .attr("fill", "#fff")
    .attr("stroke", "#222")
    .attr("stroke-width", 0.75);

  const line = d3.line().x(d => x(d[0])).y(d => y(d[1])).curve(d3.curveMonotoneX);

  // fitted sub-spectra
  p.parts.forEach(part => {
    plot.append("path").attr("d", line(part))
      .attr("fill", "none").attr("stroke", "#000").attr("stroke-width", 0.9);
  });
  // total fit
  plot.append("path").attr("d", line(p.fit))
    .attr("fill", "none").attr("stroke", "#444").attr("stroke-width", 1.1);

  // left axis
  g.append("g").attr("transform", `translate(${plotLeft},0)`)
    .call(d3.axisLeft(y).tickValues(yMajorTicks).tickSize(4).tickPadding(3).tickFormat(commaFormat))
    .call(styleAxis)
    .call(a => a.selectAll("text").attr("font-size", 9));
  g.append("g").attr("transform", `translate(${plotLeft},0)`)
    .call(d3.axisLeft(y).tickValues(yMinorTicks).tickSize(2.5).tickFormat(""))
    .call(styleAxis);

  // right axis, ticks inward
  g.append("g").attr("transform", `translate(${plotRight},0)`)
    .call(d3.axisRight(y).tickValues(yMajorTicks).tickSize(-4).tickFormat(""))
    .call(styleAxis);
  g.append("g").attr("transform", `translate(${plotRight},0)`)
    .call(d3.axisRight(y).tickValues(yMinorTicks).tickSize(-2.5).tickFormat(""))
    .call(styleAxis);

  // top edge, ticks inward
  g.append("g").attr("transform", `translate(0,${top})`)
    .call(d3.axisBottom(x).tickValues(xMajorTicks).tickSize(3.5).tickFormat(""))
    .call(styleAxis);
  g.append("g").attr("transform", `translate(0,${top})`)
    .call(d3.axisBottom(x).tickValues(xMinorTicks).tickSize(2).tickFormat(""))
    .call(styleAxis);

  if (i < panels.length - 1) {
    g.append("g").attr("transform", `translate(0,${bottom})`)
      .call(d3.axisTop(x).tickValues(xMajorTicks).tickSize(3.5).tickFormat(""))
      .call(styleAxis);
    g.append("g").attr("transform", `translate(0,${bottom})`)
      .call(d3.axisTop(x).tickValues(xMinorTicks).tickSize(2).tickFormat(""))
      .call(styleAxis);
  } else {
    g.append("g").attr("transform", `translate(0,${bottom})`)
      .call(d3.axisBottom(x).tickValues(xMajorTicks).tickSize(5).tickPadding(0).tickFormat(d => String(d)))
      .call(styleAxis)
      .call(a => a.selectAll("text").attr("font-size", 13));
    g.append("g").attr("transform", `translate(0,${bottom})`)
      .call(d3.axisBottom(x).tickValues(xMinorTicks).tickSize(3).tickFormat(""))
      .call(styleAxis);
  }

  // frame
  g.append("rect")
    .attr("x", plotLeft).attr("y", top)
    .attr("width", plotRight - plotLeft).attr("height", panelH)
    .attr("fill", "none").attr("stroke", "#000").attr("stroke-width", 1.3);

  // sample label
  const t = g.append("text")
    .attr("x", labelPos[i].x).attr("y", labelPos[i].y)
    .attr("text-anchor", "end")
    .attr("font-family", FONT).attr("font-size", 18).attr("fill", "#000")
    .text(sampleNames[i]);
  if (sampleSubscripts[i]) {
    t.append("tspan").attr("font-size", 11).attr("dy", 5).text(sampleSubscripts[i]);
  }
});

// axis titles
svg.append("text")
  .attr("transform", "translate(26,206) rotate(-90)")
  .attr("text-anchor", "middle")
  .attr("font-family", FONT).attr("font-size", 20).attr("fill", "#000")
  .text("Transmissão relativa");

const xt = svg.append("text")
  .attr("x", 243).attr("y", 452)
  .attr("font-family", FONT).attr("font-size", 20.5).attr("fill", "#000")
  .text("Velocidade/mms");
xt.append("tspan").attr("font-size", 12).attr("dy", -10).text("-1");
</script>
</body>
</html>
